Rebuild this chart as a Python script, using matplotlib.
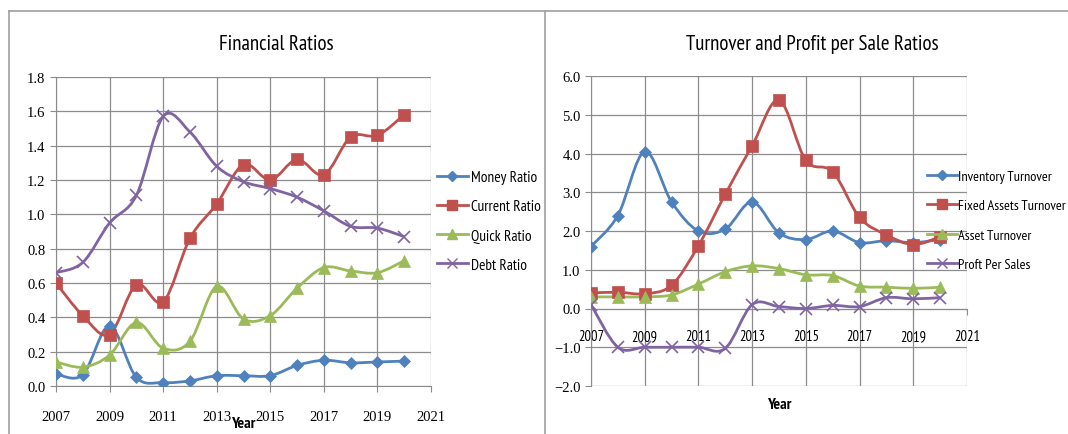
import matplotlib.pyplot as plt
import numpy as np
from matplotlib.lines import Line2D
from matplotlib.patches import PathPatch
from matplotlib.path import Path

plt.rcParams['font.family'] = ['PT Sans Narrow', 'DejaVu Sans']

# data
years = [2007, 2008, 2009, 2010, 2011, 2012, 2013, 2014, 2015, 2016, 2017, 2018, 2019, 2020]

money_ratio = [0.07, 0.065, 0.35, 0.05, 0.02, 0.03, 0.06, 0.06, 0.06, 0.12, 0.15, 0.135, 0.14, 0.145]
current_ratio = [0.60, 0.41, 0.30, 0.59, 0.49, 0.86, 1.06, 1.29, 1.20, 1.32, 1.23, 1.45, 1.46, 1.58]
quick_ratio = [0.14, 0.11, 0.18, 0.37, 0.22, 0.26, 0.58, 0.39, 0.41, 0.57, 0.69, 0.67, 0.66, 0.73]
debt_ratio = [0.66, 0.72, 0.95, 1.11, 1.57, 1.48, 1.28, 1.19, 1.15, 1.10, 1.02, 0.93, 0.92, 0.87]

inventory_turnover = [1.6, 2.4, 4.05, 2.75, 2.0, 2.05, 2.75, 1.95, 1.78, 2.0, 1.7, 1.75, 1.7, 1.78]
fixed_assets_turnover = [0.4, 0.42, 0.38, 0.6, 1.62, 2.95, 4.2, 5.38, 3.82, 3.53, 2.35, 1.9, 1.65, 1.85]
asset_turnover = [0.3, 0.3, 0.3, 0.35, 0.63, 0.95, 1.1, 1.03, 0.87, 0.85, 0.58, 0.55, 0.52, 0.55]
profit_per_sales = [0.1, -1.0, -1.0, -1.0, -1.0, -1.03, 0.1, 0.05, 0.0, 0.08, 0.05, 0.28, 0.25, 0.28]

left_series = [
    ('Money Ratio', money_ratio, '#4F81BD', 'D', 6),
    ('Current Ratio', current_ratio, '#C0504D', 's', 8),
    ('Quick Ratio', quick_ratio, '#9BBB59', '^', 8),
    ('Debt Ratio', debt_ratio, '#8064A2', 'x', 8),
]
right_series = [
    ('Inventory Turnover', inventory_turnover, '#4F81BD', 'D', 6),
    ('Fixed Assets Turnover', fixed_assets_turnover, '#C0504D', 's', 8),
    ('Asset Turnover', asset_turnover, '#9BBB59', '^', 8),
    ('Proft Per Sales', profit_per_sales, '#8064A2', 'x', 8),
]


def smooth_path(x, y):
    # excel style smoothed line, bezier segments through the points
    p = np.column_stack([x, y]).astype(float)
    ext = np.vstack([p[0], p, p[-1]])
    verts = [p[0]]
    codes = [Path.MOVETO]
    for i in range(len(p) - 1):
        c1 = ext[i + 1] + (ext[i + 2] - ext[i]) / 6
        c2 = ext[i + 2] - (ext[i + 3] - ext[i + 1]) / 6
        verts += [c1, c2, ext[i + 2]]
        codes += [Path.CURVE4] * 3
    return Path(verts, codes)


def draw(ax, series):
    handles = []
    for name, vals, col, mk, ms in series:
        ax.add_patch(PathPatch(smooth_path(years, vals), fill=False, edgecolor=col, lw=2.0, zorder=3))
        ax.plot(years, vals, linestyle='none', marker=mk, color=col, ms=ms,
                mew=1.2 if mk == 'x' else 0.5, mec=col, zorder=4)
        handles.append(Line2D([], [], color=col, lw=2.0, marker=mk, ms=ms * 0.9, mew=1.0))
    ax.set_xlim(2007, 2021)
    ax.set_xticks(range(2007, 2022, 2))
    ax.grid(True, color='#8C8C8C', lw=0.9)
    ax.set_axisbelow(True)
    for s in ['top', 'right']:
        ax.spines[s].set_visible(False)
    for s in ['left', 'bottom']:
        ax.spines[s].set_color('#8C8C8C')
    ax.tick_params(colors='#8C8C8C', labelcolor='black', length=4, labelsize=10.5)
    for lab in ax.get_xticklabels() + ax.get_yticklabels():
        lab.set_family('Liberation Serif')
    return handles


fig = plt.figure(figsize=(10.68, 4.35), dpi=100)

# left chart
ax1 = fig.add_axes([56 / 1068, 1 - 387 / 435, 375 / 1068, 309 / 435])
h1 = draw(ax1, left_series)
ax1.set_ylim(0, 1.8)
ax1.set_yticks(np.arange(0, 1.81, 0.2))
ax1.yaxis.set_major_formatter('{x:.1f}')
ax1.tick_params(axis='x', pad=13)
ax1.set_xlabel('Year', fontsize=11.5, fontweight='bold', labelpad=-5)
ax1.legend(h1, [s[0] for s in left_series], loc='upper left',
           bbox_to_anchor=(437 / 1068, 1 - 171 / 435), bbox_transform=fig.transFigure,
           frameon=False, fontsize=11, borderpad=0, borderaxespad=0,
           handlelength=2.0, handletextpad=0.2, labelspacing=1.0)

# right chart
ax2 = fig.add_axes([591 / 1068, 1 - 387 / 435, 376 / 1068, 310 / 435])
h2 = draw(ax2, right_series)
ax2.set_ylim(-2, 6)
ax2.set_yticks(np.arange(-2, 6.1, 1.0))
ax2.yaxis.set_major_formatter('{x:.1f}')
ax2.spines['bottom'].set_position(('data', 0))
ax2.tick_params(axis='x', pad=11)
ax2.set_xlabel('Year', fontsize=11.5, fontweight='bold')
ax2.xaxis.set_label_coords(0.5, -0.035)
ax2.legend(h2, [s[0] for s in right_series], loc='upper left',
           bbox_to_anchor=(927 / 1068, 1 - 171 / 435), bbox_transform=fig.transFigure,
           frameon=False, fontsize=10.3, borderpad=0, borderaxespad=0,
           handlelength=2.1, handletextpad=0.05, labelspacing=1.15)

fig.text(276 / 1068, 1 - 44 / 435, 'Financial Ratios', ha='center', va='center', fontsize=15)
fig.text(812 / 1068, 1 - 44 / 435, 'Turnover and Profit per Sale Ratios', ha='center', va='center', fontsize=15)

# panel borders
fig.add_artist(Line2D([9 / 1068, 1], [1 - 12 / 435] * 2, color='#A0A0A0', lw=1.2, transform=fig.transFigure))
fig.add_artist(Line2D([9 / 1068] * 2, [0, 1 - 12 / 435], color='#A0A0A0', lw=1.2, transform=fig.transFigure))
fig.add_artist(Line2D([545 / 1068] * 2, [0, 1 - 12 / 435], color='#A0A0A0', lw=1.2, transform=fig.transFigure))

fig.savefig('out.png', dpi=100)
